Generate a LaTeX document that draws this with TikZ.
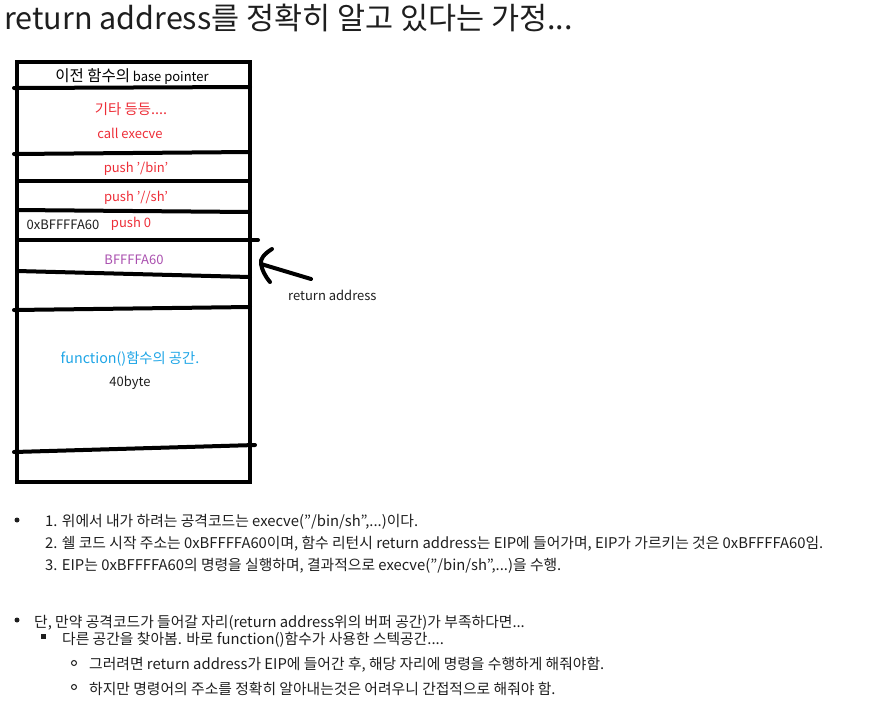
\documentclass[tikz,border=0pt]{standalone}
\usepackage{fontspec}
\setmainfont{Noto Sans CJK KR}
\newcommand{\sqq}{\symbol{39}}
\newcommand{\dqq}{\symbol{34}}
\definecolor{pred}{RGB}{237,45,55}
\definecolor{ppurple}{RGB}{170,80,175}
\definecolor{pblue}{RGB}{30,165,230}
\definecolor{txt}{RGB}{30,30,30}
\tikzset{
  hand/.style={line width=4pt, line cap=round},
  lbl/.style={inner sep=0pt, anchor=center, yshift=-2pt, font=\fontsize{13}{15}\selectfont},
  ko/.style={font=\fontsize{14.4}{16}\selectfont},
  body/.style={inner sep=0pt, anchor=west, yshift=-1.5pt, text=txt, font=\fontsize{14.8}{17}\selectfont},
}
\begin{document}
\begin{tikzpicture}[x=1pt,y=-1pt]
\useasboundingbox (0,0) rectangle (872,716);
% title
\node[inner sep=0pt, anchor=base west, text=txt, font=\fontsize{30.5}{34}\selectfont] (title) at (4,29) {return address를 정확히 알고 있다는 가정...};
% box frame
\draw[hand] (17,62) -- (250,62) -- (250,482) -- (17,482) -- cycle;
\draw[hand] (14,88) -- (250,87);
\draw[hand] (14,154) -- (250,152);
\draw[hand] (17,181) -- (250,181);
\draw[hand] (17,210) -- (250,212);
\draw[hand] (17,240) -- (258,240);
\draw[hand] (17,271) -- (250,277);
\draw[hand] (14,310) -- (250,307);
\draw[hand] (14,452) -- (255,445);
% labels
\node[lbl] (bp) at (132,75) {{\fontsize{15.5}{17}\selectfont 이전 함수의} base pointer};
\node[lbl, ko, text=pred] (etc) at (131,107) {기타 등등....};
\node[lbl, text=pred] (call) at (130,131) {call execve};
\node[lbl, text=pred] (bin) at (136,167) {push \sqq/bin\sqq};
\node[lbl, text=pred] (sh) at (136,196) {push \sqq//sh\sqq};
\node[lbl, text=txt] (addr) at (63,223) {0xBFFFFA60};
\node[lbl, text=pred] (p0) at (131,222) {push 0};
\node[lbl, text=ppurple] (ret) at (134,258) {BFFFFA60};
\node[lbl, text=pblue, font=\fontsize{14.3}{16}\selectfont] (fn) at (130,357) {function()함수의 공간.};
\node[lbl, text=txt] (b40) at (130,381) {40byte};
% arrow
\node[lbl, text=txt, anchor=west] (rlab) at (288,293) {return address};
\coordinate (tip) at (261,264);
\draw[hand] (272,249) .. controls (264,254) and (260,259) .. (tip) .. controls (262,270) and (265,276) .. (270,282);
\draw[hand] (tip) -- (311,279);
% bullets
\fill[txt] (17,520) circle (2.5pt);
\node[body] (l1) at (45,520) {1. 위에서 내가 하려는 공격코드는 execve(\dqq/bin/sh\dqq,...)이다.};
\node[body] (l2) at (45,542) {2. 쉘 코드 시작 주소는 0xBFFFFA60이며, 함수 리턴시 return address는 EIP에 들어가며, EIP가 가르키는 것은 0xBFFFFA60임.};
\node[body] (l3) at (45,564) {3. EIP는 0xBFFFFA60의 명령을 실행하며, 결과적으로 execve(\dqq/bin/sh\dqq,...)을 수행.};
\fill[txt] (17,620) circle (2.5pt);
\node[body] (m1) at (34,621) {단, 만약 공격코드가 들어갈 자리(return address위의 버퍼 공간)가 부족하다면...};
\fill[txt] (40.5,633.5) rectangle (45.5,638.5);
\node[body] (m2) at (62,638) {다른 공간을 찾아봄. 바로 function()함수가 사용한 스텍공간....};
\draw[txt, line width=1pt] (74,663) circle (2.5pt);
\node[body] (m3) at (89,663) {그러려면 return address가 EIP에 들어간 후, 해당 자리에 명령을 수행하게 해줘야함.};
\draw[txt, line width=1pt] (74,687) circle (2.5pt);
\node[body] (m4) at (89,687) {하지만 명령어의 주소를 정확히 알아내는것은 어려우니 간접적으로 해줘야 함.};
\end{tikzpicture}
\end{document}
